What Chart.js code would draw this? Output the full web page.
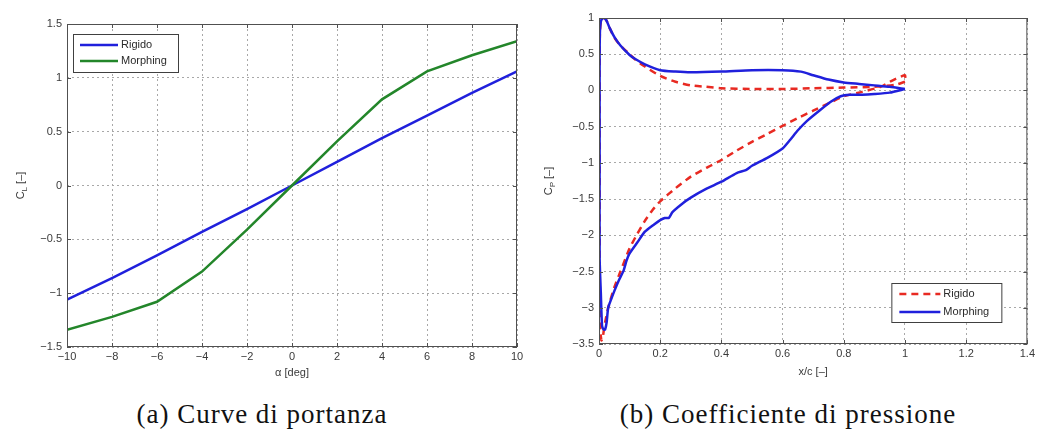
<!DOCTYPE html>
<html>
<head>
<meta charset="utf-8">
<script src="https://cdn.jsdelivr.net/npm/chart.js@4.4.0/dist/chart.umd.min.js"></script>
<style>
  body { margin: 0; background: #fff; width: 1038px; height: 429px; overflow: hidden; position: relative; }
  .box { position: absolute; top: 0; height: 390px; }
  #boxA { left: 0; width: 530px; }
  #boxB { left: 530px; width: 508px; }
  .cap { position: absolute; top: 399px; width: 440px; text-align: center; white-space: nowrap;
         font-family: "Liberation Serif", "Times New Roman", serif; font-size: 27px; letter-spacing: 1px; color: #111; }
</style>
</head>
<body>
<div class="box" id="boxA"><canvas id="liftChart"></canvas></div>
<div class="box" id="boxB"><canvas id="cpChart"></canvas></div>
<div class="cap" style="left:42px">(a) Curve di portanza</div>
<div class="cap" style="left:568px">(b) Coefficiente di pressione</div>

<script>
// --- (a) lift curves ---
const alphaDeg   = [-10, -8, -6, -4, -2, 0, 2, 4, 6, 8, 10];
const clRigido   = [-1.06, -0.86, -0.65, -0.43, -0.22, 0, 0.22, 0.44, 0.65, 0.86, 1.06];
const clMorphing = [-1.34, -1.22, -1.08, -0.80, -0.41, 0, 0.41, 0.80, 1.06, 1.21, 1.34];
const alphaTicks = [-10, -8, -6, -4, -2, 0, 2, 4, 6, 8, 10];
const clTicks    = [-1.5, -1, -0.5, 0, 0.5, 1, 1.5];

// --- (b) pressure coefficient (pressure side TE->LE, then suction side LE->TE) ---
const cpRigidoX = [1.0, 0.97, 0.9, 0.8, 0.7, 0.6, 0.5, 0.4, 0.35, 0.3, 0.25, 0.2, 0.15, 0.12, 0.1, 0.07, 0.05,
  0.035, 0.025, 0.018, 0.012, 0.006, 0.003, 0.002, 0.002, 0.002, 0.004, 0.008, 0.012, 0.016, 0.02, 0.03,
  0.05, 0.07, 0.1, 0.125, 0.15, 0.175, 0.2, 0.25, 0.3, 0.35, 0.4, 0.45, 0.5, 0.55, 0.6, 0.65, 0.7, 0.75,
  0.8, 0.86, 0.92, 0.96, 1.0, 1.0];
const cpRigidoY = [0.12, 0.08, 0.05, 0.04, 0.03, 0.02, 0.02, 0.03, 0.05, 0.07, 0.12, 0.2, 0.33, 0.42, 0.5, 0.62, 0.73,
  0.86, 0.96, 1.0, 1.0, 0.95, 0.8, 0.4, -1.0, -2.5, -3.3, -3.45, -3.42, -3.3, -3.2, -3.0,
  -2.72, -2.5, -2.18, -1.98, -1.8, -1.65, -1.53, -1.35, -1.19, -1.07, -0.96, -0.83, -0.71, -0.6, -0.49, -0.38, -0.28, -0.18,
  -0.08, -0.02, 0.05, 0.14, 0.21, 0.14];
const cpMorphX = [1.0, 0.95, 0.9, 0.85, 0.8, 0.75, 0.7, 0.66, 0.6, 0.5, 0.4, 0.3, 0.25, 0.2, 0.15, 0.12, 0.1, 0.07,
  0.05, 0.035, 0.025, 0.018, 0.012, 0.006, 0.003, 0.002, 0.002, 0.002, 0.006, 0.01, 0.015, 0.02, 0.025, 0.03,
  0.04, 0.05, 0.065, 0.08, 0.09, 0.1, 0.125, 0.15, 0.18, 0.2, 0.215, 0.228, 0.24, 0.27, 0.3, 0.35, 0.4,
  0.45, 0.48, 0.5, 0.55, 0.6, 0.625, 0.65, 0.68, 0.72, 0.76, 0.79, 0.82, 0.86, 0.9, 0.95, 1.0];
const cpMorphY = [0.02, 0.05, 0.07, 0.09, 0.11, 0.15, 0.21, 0.26, 0.28, 0.28, 0.26, 0.25, 0.26, 0.28, 0.36, 0.43, 0.49, 0.62,
  0.74, 0.86, 0.96, 1.0, 1.0, 0.95, 0.8, 0.4, -1.0, -2.3, -2.8, -3.25, -3.3, -3.3, -3.2, -3.0,
  -2.88, -2.77, -2.62, -2.49, -2.35, -2.25, -2.1, -1.95, -1.85, -1.79, -1.76, -1.76, -1.68, -1.57, -1.48, -1.36, -1.26,
  -1.14, -1.1, -1.04, -0.93, -0.8, -0.68, -0.55, -0.42, -0.28, -0.15, -0.08, -0.06, -0.06, -0.05, -0.03, 0.02];
const xcTicks = [0, 0.2, 0.4, 0.6, 0.8, 1, 1.2, 1.4];
const cpTicks = [-3.5, -3, -2.5, -2, -1.5, -1, -0.5, 0, 0.5, 1];

const seriesNames = ['Rigido', 'Morphing'];

const SANS = '"Liberation Sans", Arial, sans-serif';
const minus = v => String(v).replace('-', '\u2212');
const pts = (xs, ys) => xs.map((x, i) => ({ x: x, y: ys[i] }));

function makeScale(vals, size, horizontal, pad) {
  return {
    type: 'linear',
    position: horizontal ? 'bottom' : 'left',
    min: vals[0],
    max: vals[vals.length - 1],
    afterBuildTicks: s => { s.ticks = vals.map(v => ({ value: v })); },
    afterFit: s => { if (horizontal) s.height = size; else s.width = size; },
    grid: { color: '#a8a8a8', lineWidth: 1, drawTicks: false },
    border: { display: false, dash: [2, 3] },
    ticks: { padding: pad, color: '#3a3a3a', font: { family: SANS, size: 11 },
             maxRotation: 0, autoSkip: false, callback: v => minus(v) }
  };
}

// matlab-like box, inner tick marks, axis titles and legend
const matlabFrame = {
  id: 'matlabFrame',
  afterDraw(chart, args, o) {
    const { ctx, chartArea: a, scales } = chart;
    ctx.save();
    ctx.strokeStyle = '#505050';
    ctx.lineWidth = 1;
    ctx.setLineDash([]);
    ctx.strokeRect(a.left + 0.5, a.top + 0.5, a.right - a.left - 1, a.bottom - a.top - 1);
    ctx.beginPath();
    scales.x.ticks.forEach(t => {
      const px = Math.round(scales.x.getPixelForValue(t.value)) + 0.5;
      ctx.moveTo(px, a.bottom); ctx.lineTo(px, a.bottom - 4);
      ctx.moveTo(px, a.top); ctx.lineTo(px, a.top + 4);
    });
    scales.y.ticks.forEach(t => {
      const py = Math.round(scales.y.getPixelForValue(t.value)) + 0.5;
      ctx.moveTo(a.left, py); ctx.lineTo(a.left + 4, py);
      ctx.moveTo(a.right, py); ctx.lineTo(a.right - 4, py);
    });
    ctx.stroke();

    // x title
    ctx.fillStyle = '#3a3a3a';
    ctx.font = '11px ' + SANS;
    ctx.textAlign = 'center';
    ctx.textBaseline = 'middle';
    ctx.fillText(o.xTitle, (a.left + a.right) / 2, a.bottom + o.xTitleDy);

    // y title with subscript, rotated
    ctx.save();
    ctx.translate(o.yTitleX, (a.top + a.bottom) / 2);
    ctx.rotate(-Math.PI / 2);
    ctx.textAlign = 'left';
    ctx.font = '11px ' + SANS;
    const wC = ctx.measureText('C').width;
    const wRest = ctx.measureText(' [\u2013]').width;
    ctx.font = '8px ' + SANS;
    const wSub = ctx.measureText(o.ySub).width;
    let x = -(wC + wSub + wRest) / 2;
    ctx.font = '11px ' + SANS;
    ctx.fillText('C', x, 0); x += wC;
    ctx.font = '8px ' + SANS;
    ctx.fillText(o.ySub, x, 4); x += wSub;
    ctx.font = '11px ' + SANS;
    ctx.fillText(' [\u2013]', x, 0);
    ctx.restore();

    // legend
    const L = o.legend;
    const x0 = L.side === 'left' ? a.left + L.dx : a.right - L.dx - L.w;
    const y0 = L.side === 'left' ? a.top + L.dy : a.bottom - L.dy - L.h;
    ctx.fillStyle = '#fff';
    ctx.fillRect(x0, y0, L.w, L.h);
    ctx.strokeStyle = '#404040';
    ctx.strokeRect(x0 + 0.5, y0 + 0.5, L.w, L.h);
    seriesNames.forEach((name, i) => {
      const ds = chart.data.datasets.find(d => d.label === name);
      const yy = y0 + L.row0 + i * L.rowGap;
      ctx.strokeStyle = ds.borderColor;
      ctx.lineWidth = ds.borderWidth;
      ctx.setLineDash(ds.borderDash || []);
      ctx.beginPath();
      ctx.moveTo(x0 + L.lineX, yy);
      ctx.lineTo(x0 + L.lineX + L.lineW, yy);
      ctx.stroke();
      ctx.setLineDash([]);
      ctx.fillStyle = '#2a2a2a';
      ctx.font = '11px ' + SANS;
      ctx.textAlign = 'left';
      ctx.fillText(name, x0 + L.lineX + L.lineW + 3, yy);
    });
    ctx.restore();
  }
};

Chart.defaults.animation = false;
Chart.defaults.responsive = true;
Chart.defaults.maintainAspectRatio = false;

new Chart(document.getElementById('liftChart'), {
  type: 'scatter',
  data: {
    datasets: [
      { label: 'Rigido', data: pts(alphaDeg, clRigido), showLine: true, borderColor: '#2020dc',
        borderWidth: 2.5, pointRadius: 0, tension: 0, order: 1 },
      { label: 'Morphing', data: pts(alphaDeg, clMorphing), showLine: true, borderColor: '#23862a',
        borderWidth: 2.5, pointRadius: 0, tension: 0, order: 0 }
    ]
  },
  options: {
    layout: { padding: { left: 0, top: 24, right: 13, bottom: 0 } },
    scales: { x: makeScale(alphaTicks, 43, true, 3), y: makeScale(clTicks, 67, false, 5) },
    plugins: {
      legend: { display: false },
      tooltip: { enabled: false },
      matlabFrame: {
        xTitle: '\u03b1 [deg]', xTitleDy: 26, yTitleX: 21, ySub: 'L',
        legend: { side: 'left', dx: 6, dy: 10, w: 105, h: 38, row0: 11, rowGap: 16, lineX: 7, lineW: 38 }
      }
    }
  },
  plugins: [matlabFrame]
});

new Chart(document.getElementById('cpChart'), {
  type: 'scatter',
  data: {
    datasets: [
      { label: 'Rigido', data: pts(cpRigidoX, cpRigidoY), showLine: true, borderColor: '#e82a22',
        borderWidth: 2.5, borderDash: [7, 5], pointRadius: 0, tension: 0.2, order: 1 },
      { label: 'Morphing', data: pts(cpMorphX, cpMorphY), showLine: true, borderColor: '#2020dc',
        borderWidth: 2.5, pointRadius: 0, tension: 0.2, order: 0 }
    ]
  },
  options: {
    layout: { padding: { left: 0, top: 18, right: 10, bottom: 0 } },
    scales: { x: makeScale(xcTicks, 46, true, 3), y: makeScale(cpTicks, 69, false, 5) },
    plugins: {
      legend: { display: false },
      tooltip: { enabled: false },
      matlabFrame: {
        xTitle: 'x/c [\u2013]', xTitleDy: 28, yTitleX: 19, ySub: 'P',
        legend: { side: 'right', dx: 26, dy: 22, w: 110, h: 39, row0: 11, rowGap: 18, lineX: 8, lineW: 41 }
      }
    }
  },
  plugins: [matlabFrame]
});
</script>
</body>
</html>
